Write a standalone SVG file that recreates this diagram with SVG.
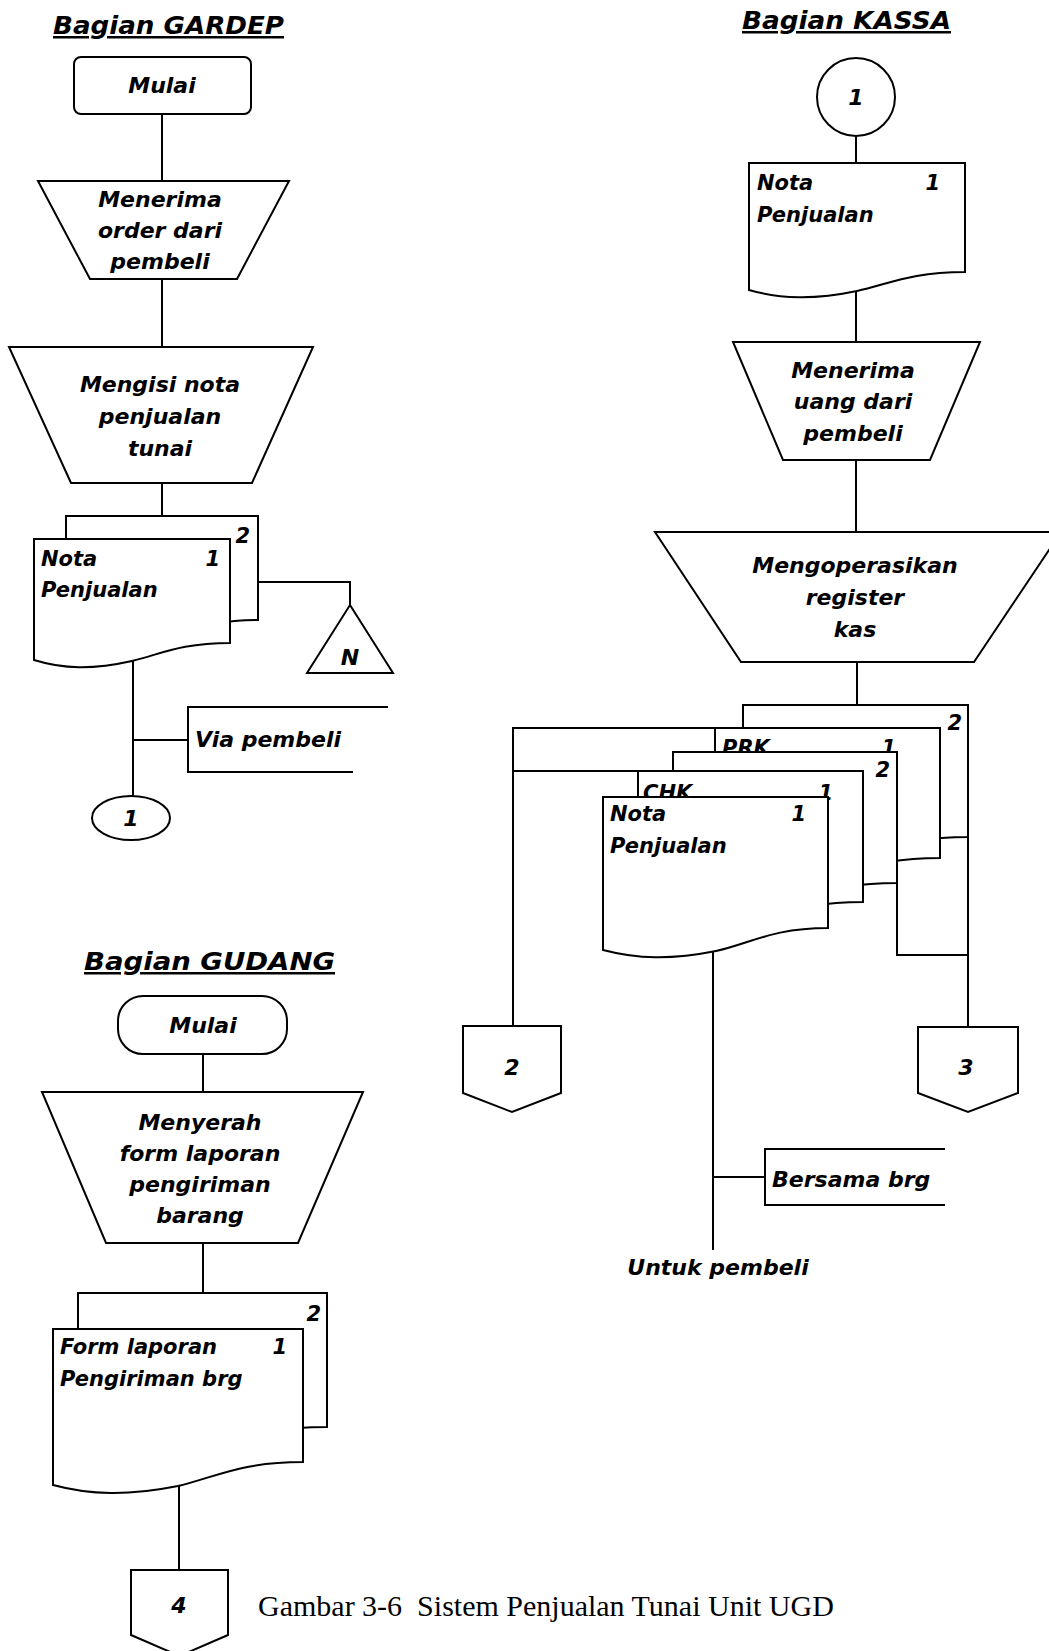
<svg xmlns="http://www.w3.org/2000/svg" width="1049" height="1651" viewBox="0 0 1049 1651">
  <style>
    .s { fill: #fff; stroke: #000; stroke-width: 2; stroke-linejoin: miter; }
    .ln { fill: none; stroke: #000; stroke-width: 2; }
    text { font-family: "DejaVu Sans", "Liberation Sans", sans-serif; font-weight: bold; font-style: italic; fill: #000; }
    .p { font-size: 22px; text-anchor: middle; }
    .d { font-size: 21px; }
    .e { text-anchor: end; }
    .ttl { font-size: 25px; text-decoration: underline; }
    .cap { font-family: "Liberation Serif", "Times New Roman", serif; font-weight: normal; font-style: normal; font-size: 30px; }
  </style>
  <rect width="1049" height="1651" fill="#fff"/>

  <!-- flow lines -->
  <g id="connectors" class="ln">
    <!-- GARDEP -->
    <path d="M162,114 V181"/>
    <path d="M162,279 V347"/>
    <path d="M162,483 V516"/>
    <path d="M258,582 H350 V605"/>
    <path d="M133,661 V796"/>
    <path d="M133,740 H188"/>
    <!-- KASSA -->
    <path d="M856,136 V163"/>
    <path d="M856,291 V342"/>
    <path d="M856,460 V532"/>
    <path d="M857,662 V705"/>
    <path d="M715,728 H513 V1026"/>
    <path d="M638,771 H513"/>
    <path d="M968,705 V1027"/>
    <path d="M897,883 V955 H968"/>
    <path d="M713,951 V1250"/>
    <path d="M713,1177 H765"/>
    <!-- GUDANG -->
    <path d="M203,1054 V1092"/>
    <path d="M203,1243 V1293"/>
    <path d="M179,1486 V1570"/>
  </g>

  <!-- ===== Bagian GARDEP ===== -->
  <g id="title-gardep">
    <text class="ttl" x="53" y="34" textLength="231" lengthAdjust="spacingAndGlyphs">Bagian GARDEP</text>
  </g>
  <g id="gardep-mulai">
    <rect class="s" x="74" y="57" width="177" height="57" rx="7"/>
    <text class="p" x="162" y="93">Mulai</text>
  </g>
  <g id="gardep-terima-order">
    <polygon class="s" points="38,181 289,181 237,279 90,279"/>
    <text class="p" x="160" y="207">Menerima</text>
    <text class="p" x="160" y="238">order dari</text>
    <text class="p" x="160" y="269">pembeli</text>
  </g>
  <g id="gardep-isi-nota">
    <polygon class="s" points="9,347 313,347 252,483 71,483"/>
    <text class="p" x="160" y="392">Mengisi nota</text>
    <text class="p" x="160" y="424">penjualan</text>
    <text class="p" x="160" y="456">tunai</text>
  </g>
  <g id="gardep-nota">
    <path class="s" d="M66,516 H258 V620 C210,620 191,631 162,638 C124,647 95,646 66,637 Z"/>
    <text class="d e" x="250" y="543">2</text>
    <path class="s" d="M34,539 H230 V643 C181,643 161,654 132,661 C92,670 63,669 34,660 Z"/>
    <text class="d" x="41" y="566">Nota</text>
    <text class="d e" x="220" y="566">1</text>
    <text class="d" x="41" y="597">Penjualan</text>
  </g>
  <g id="gardep-arsip">
    <polygon class="s" points="350,605 393,673 307,673"/>
    <text class="p" x="350" y="665">N</text>
  </g>
  <g id="gardep-via-pembeli">
    <path class="ln" d="M388,707 H188 V772 H353"/>
    <text class="d" x="195" y="747" style="font-size:22px">Via pembeli</text>
  </g>
  <g id="gardep-off-1">
    <ellipse class="s" cx="131" cy="818" rx="39" ry="22"/>
    <text class="p" x="131" y="826">1</text>
  </g>

  <!-- ===== Bagian KASSA ===== -->
  <g id="title-kassa">
    <text class="ttl" x="742" y="29" textLength="209" lengthAdjust="spacingAndGlyphs">Bagian KASSA</text>
  </g>
  <g id="kassa-on-1">
    <circle class="s" cx="856" cy="97" r="39"/>
    <text class="p" x="856" y="105">1</text>
  </g>
  <g id="kassa-nota">
    <path class="s" d="M749,163 H965 V272 C911,272 889,284 857,291 C814,300 781,299 749,290 Z"/>
    <text class="d" x="757" y="190">Nota</text>
    <text class="d e" x="940" y="190">1</text>
    <text class="d" x="757" y="222">Penjualan</text>
  </g>
  <g id="kassa-terima-uang">
    <polygon class="s" points="733,342 980,342 930,460 783,460"/>
    <text class="p" x="853" y="378">Menerima</text>
    <text class="p" x="853" y="409">uang dari</text>
    <text class="p" x="853" y="441">pembeli</text>
  </g>
  <g id="kassa-register">
    <polygon class="s" points="655,532 1061,532 974,662 741,662"/>
    <text class="p" x="855" y="573">Mengoperasikan</text>
    <text class="p" x="855" y="605">register</text>
    <text class="p" x="855" y="637">kas</text>
  </g>
  <g id="kassa-prk-2">
    <path class="s" d="M743,705 H968 V837 C912,837 890,848 856,855 C811,864 777,863 743,854 Z"/>
    <text class="d e" x="962" y="730">2</text>
  </g>
  <g id="kassa-prk-1">
    <path class="s" d="M715,728 H940 V858 C884,858 861,869 828,876 C783,885 749,884 715,875 Z"/>
    <text class="d" x="722" y="755">PRK</text>
    <text class="d e" x="896" y="755">1</text>
  </g>
  <g id="kassa-chk-2">
    <path class="s" d="M673,752 H897 V883 C841,883 819,894 785,901 C740,910 707,909 673,900 Z"/>
    <text class="d e" x="890" y="777">2</text>
  </g>
  <g id="kassa-chk-1">
    <path class="s" d="M638,771 H863 V902 C807,902 784,913 751,920 C706,929 672,928 638,919 Z"/>
    <text class="d" x="643" y="800">CHK</text>
    <text class="d e" x="833" y="800">1</text>
  </g>
  <g id="kassa-nota-1">
    <path class="s" d="M603,797 H828 V928 C772,928 749,944 716,951 C671,960 637,959 603,950 Z"/>
    <text class="d" x="610" y="821">Nota</text>
    <text class="d e" x="806" y="821">1</text>
    <text class="d" x="610" y="853">Penjualan</text>
  </g>
  <g id="kassa-off-2">
    <path class="s" d="M463,1026 H561 V1093 L512,1112 L463,1093 Z"/>
    <text class="p" x="512" y="1075">2</text>
  </g>
  <g id="kassa-off-3">
    <path class="s" d="M918,1027 H1018 V1093 L968,1112 L918,1093 Z"/>
    <text class="p" x="966" y="1075">3</text>
  </g>
  <g id="kassa-bersama-brg">
    <path class="ln" d="M945,1149 H765 V1205 H945"/>
    <text class="d" x="772" y="1187" style="font-size:22px">Bersama brg</text>
  </g>
  <g id="kassa-untuk-pembeli">
    <text class="p" x="718" y="1275">Untuk pembeli</text>
  </g>

  <!-- ===== Bagian GUDANG ===== -->
  <g id="title-gudang">
    <text class="ttl" x="84" y="970" textLength="251" lengthAdjust="spacingAndGlyphs">Bagian GUDANG</text>
  </g>
  <g id="gudang-mulai">
    <rect class="s" x="118" y="996" width="169" height="58" rx="25"/>
    <text class="p" x="203" y="1033">Mulai</text>
  </g>
  <g id="gudang-serah-form">
    <polygon class="s" points="42,1092 363,1092 298,1243 106,1243"/>
    <text class="p" x="200" y="1130">Menyerah</text>
    <text class="p" x="200" y="1161">form laporan</text>
    <text class="p" x="200" y="1192">pengiriman</text>
    <text class="p" x="200" y="1223">barang</text>
  </g>
  <g id="gudang-form">
    <path class="s" d="M78,1293 H327 V1427 C265,1427 240,1438 203,1445 C153,1454 115,1453 78,1444 Z"/>
    <text class="d e" x="321" y="1321">2</text>
    <path class="s" d="M53,1329 H303 V1462 C240,1462 216,1477 178,1486 C128,1496 90,1495 53,1485 Z"/>
    <text class="d" x="60" y="1354">Form laporan</text>
    <text class="d e" x="287" y="1354">1</text>
    <text class="d" x="60" y="1386">Pengiriman brg</text>
  </g>
  <g id="gudang-off-4">
    <path class="s" d="M131,1570 H228 V1635 L179.5,1656 L131,1635 Z"/>
    <text class="p" x="179" y="1613">4</text>
  </g>

  <g id="caption">
    <text class="cap" x="258" y="1616">Gambar 3-6&#160; Sistem Penjualan Tunai Unit UGD</text>
  </g>
</svg>
